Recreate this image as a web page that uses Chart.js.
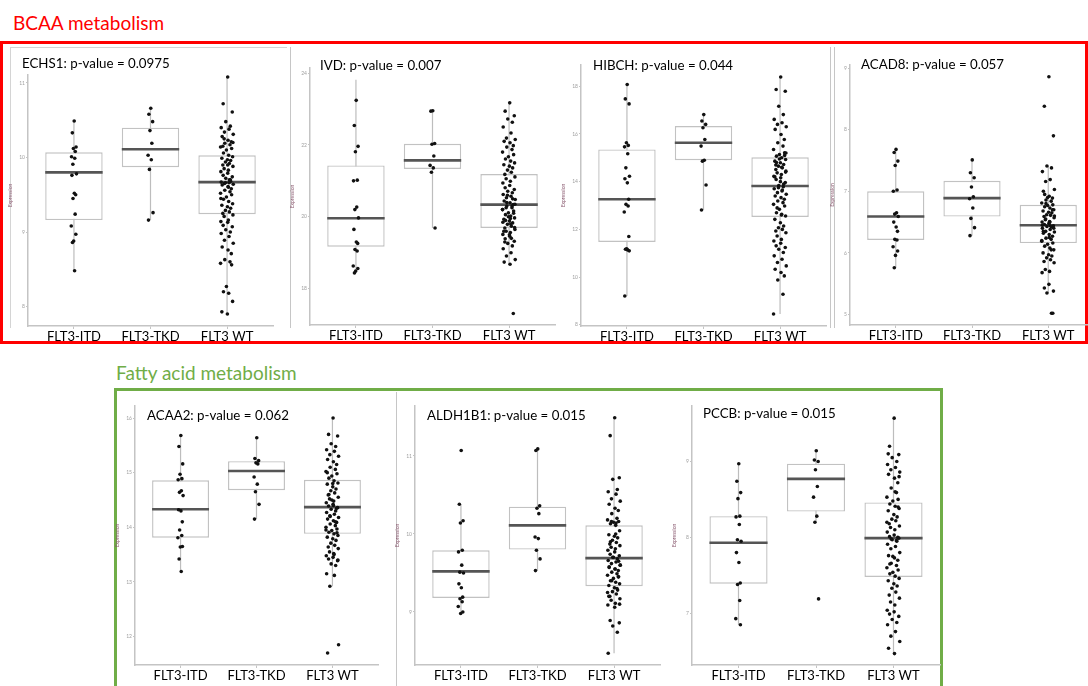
<!DOCTYPE html>
<html><head><meta charset="utf-8">
<script src="https://cdn.jsdelivr.net/npm/chart.js@4.4.0/dist/chart.umd.min.js"></script>
<style>
html,body{margin:0;padding:0;background:#fff;width:1088px;height:686px;overflow:hidden;position:relative;font-family:Lato,'Open Sans',sans-serif;}
.sec{position:absolute;font-size:19px;line-height:24px;white-space:nowrap;}
.frame{position:absolute;box-sizing:border-box;}
.vl{position:absolute;width:1px;background:#c6c6c6;}
.hl{position:absolute;height:1px;background:#d4d4d4;}
canvas{position:absolute;}
</style></head><body>
<div class="sec" style="left:13px;top:11px;color:#ff0000">BCAA metabolism</div>
<div class="frame" style="left:0;top:41px;width:1088px;height:303px;border:3px solid #ff0000"></div>
<div class="sec" style="left:116px;top:361px;color:#70ad47">Fatty acid metabolism</div>
<div class="frame" style="left:114px;top:388px;width:829px;height:320px;border:3px solid #70ad47"></div>
<div class="vl" style="left:10px;top:47px;height:281px;background:#d4d4d4"></div>
<div class="hl" style="left:10px;top:47px;width:277px"></div>
<div class="vl" style="left:290px;top:47px;height:281px"></div>
<div class="vl" style="left:830px;top:47px;height:281px"></div>
<div class="vl" style="left:834px;top:47px;height:281px"></div>
<div class="vl" style="left:396px;top:392px;height:294px"></div>
<script>
const categories = ['FLT3-ITD', 'FLT3-TKD', 'FLT3 WT'];

// ---- ECHS1 ----
const echs1Itd = [10.49,10.33,10.14,10.12,10.08,10.01,9.99,9.91,9.78,9.76,9.52,9.50,9.45,9.24,9.08,8.97,8.88,8.86,8.48];
const echs1Tkd = [10.66,10.58,10.48,10.36,10.19,10.03,9.97,9.84,9.26,9.16];
const echs1Wt = [11.08,10.72,10.61,10.48,10.42,10.40,10.38,10.34,10.31,10.28,10.23,10.21,10.19,10.17,10.14,10.12,10.10,10.06,10.03,10.01,9.99,9.97,9.96,9.94,9.92,9.90,9.88,9.85,9.83,9.81,9.79,9.76,9.74,9.72,9.70,9.67,9.66,9.65,9.64,9.63,9.61,9.58,9.56,9.54,9.52,9.50,9.47,9.44,9.41,9.38,9.36,9.34,9.32,9.29,9.27,9.25,9.23,9.21,9.16,9.14,9.13,9.09,9.07,9.03,9.00,8.98,8.94,8.89,8.85,8.80,8.76,8.71,8.63,8.60,8.58,8.56,8.27,8.20,8.18,8.07,7.93,7.90,9.68,9.66,9.70,10.15,10.20,10.25,9.60,9.45,9.90];
const echs1Stats = [[8.48,9.16,9.80,10.07,10.49],[9.16,9.87,10.11,10.40,10.66],[7.90,9.24,9.67,10.03,11.08]]; // [low whisker, Q1, median, Q3, high whisker]
const echs1Ticks = [8,9,10,11];

// ---- IVD ----
const ivdItd = [23.24,22.54,21.96,21.81,21.02,21.00,20.27,20.20,19.97,19.65,19.30,19.26,19.09,19.05,18.63,18.56,18.49,18.44];
const ivdTkd = [22.95,22.94,22.04,22.02,21.69,21.43,21.36,21.24,19.69];
const ivdWt = [23.17,22.94,22.81,22.72,22.63,22.50,22.33,22.19,22.15,22.10,22.06,21.98,21.94,21.87,21.80,21.73,21.67,21.61,21.55,21.50,21.45,21.41,21.36,21.30,21.24,21.18,21.11,21.06,20.99,20.94,20.87,20.81,20.76,20.71,20.67,20.62,20.57,20.53,20.48,20.44,20.39,20.34,20.30,20.25,20.20,20.16,20.11,20.06,20.02,19.97,19.93,19.88,19.83,19.79,19.74,19.69,19.65,19.60,19.56,19.51,19.46,19.39,19.32,19.26,19.19,19.11,19.00,18.91,18.81,18.74,18.68,17.31,20.40,20.30,20.20,20.10,20.00,19.90,19.80,19.70,19.60,19.50,20.50,20.60,19.40,19.30,20.35,20.25,19.95,19.85];
const ivdStats = [[18.44,19.17,19.96,21.43,23.81],[19.69,21.33,21.57,22.03,22.95],[18.68,19.69,20.34,21.19,23.17]];
const ivdTicks = [18,20,22,24];

// ---- HIBCH ----
const hibchItd = [18.07,17.47,17.26,15.63,15.52,15.46,15.17,14.58,14.23,14.12,13.95,13.26,13.05,12.98,12.73,11.70,11.19,11.17,11.14,11.10,9.21];
const hibchTkd = [16.81,16.54,16.40,16.26,15.77,15.49,14.90,14.86,13.86,12.81];
const hibchWt = [18.39,17.86,17.79,17.16,16.81,16.61,16.47,16.40,16.30,16.19,15.98,15.77,15.63,15.49,15.35,15.21,15.14,15.07,15.00,14.93,14.86,14.79,14.72,14.65,14.58,14.51,14.44,14.37,14.30,14.23,14.16,14.09,13.96,13.84,13.79,13.70,13.61,13.54,13.47,13.40,13.33,13.26,13.19,13.12,13.05,12.98,12.84,12.70,12.63,12.56,12.42,12.28,12.14,12.07,12.00,11.93,11.86,11.72,11.58,11.51,11.42,11.31,11.24,11.17,11.03,10.89,10.75,10.61,10.47,10.33,10.19,10.05,9.88,9.28,8.45,15.10,14.95,14.80,14.60,14.40,14.20,14.00,13.90,13.75,13.65,14.70,15.20,12.90,12.60];
const hibchStats = [[9.21,11.47,13.26,15.35,18.07],[12.81,14.90,15.63,16.33,16.81],[8.45,12.52,13.82,15.02,18.39]];
const hibchTicks = [8,10,12,14,16,18];

// ---- ACAD8 ----
const acad8Itd = [7.68,7.63,7.49,7.42,7.02,7.00,6.65,6.63,6.59,6.50,6.42,6.35,6.22,6.21,6.10,6.03,5.96,5.76];
const acad8Tkd = [7.51,7.30,7.22,7.07,6.91,6.88,6.73,6.56,6.41,6.28];
const acad8Wt = [8.86,8.38,7.90,7.41,7.38,7.32,7.19,7.16,7.03,7.00,6.92,6.89,6.86,6.84,6.81,6.78,6.77,6.75,6.73,6.70,6.68,6.66,6.65,6.62,6.61,6.59,6.57,6.54,6.51,6.50,6.48,6.46,6.44,6.43,6.42,6.40,6.38,6.35,6.34,6.32,6.30,6.27,6.24,6.22,6.19,6.16,6.14,6.11,6.08,6.05,6.00,5.97,5.95,5.92,5.89,5.86,5.84,5.73,5.70,5.68,5.49,5.43,5.38,5.35,5.02,6.45,6.44,6.55,6.60,6.35,6.25,6.70,6.80,6.05,6.20,5.02,6.90,6.95,6.50,6.40];
const acad8Stats = [[5.76,6.21,6.59,7.00,7.68],[6.28,6.59,6.89,7.17,7.51],[5.35,6.16,6.45,6.78,7.41]];
const acad8Ticks = [5,6,7,8,9];

// ---- ACAA2 ----
const acaa2Itd = [15.68,15.48,15.16,14.97,14.89,14.87,14.67,14.64,14.58,14.32,14.30,14.10,13.95,13.85,13.81,13.65,13.64,13.42,13.19];
const acaa2Tkd = [15.64,15.26,15.22,15.18,15.16,14.92,14.79,14.65,14.42,14.15];
const acaa2Wt = [16.00,15.70,15.67,15.53,15.48,15.42,15.39,15.33,15.30,15.24,15.20,15.15,15.10,15.06,15.02,14.98,14.94,14.90,14.85,14.81,14.79,14.74,14.70,14.67,14.63,14.59,14.55,14.52,14.48,14.45,14.42,14.39,14.36,14.33,14.30,14.27,14.24,14.21,14.18,14.15,14.12,14.09,14.06,14.03,14.00,13.97,13.94,13.91,13.88,13.85,13.82,13.79,13.76,13.71,13.67,13.64,13.61,13.55,13.52,13.48,13.45,13.42,13.39,13.33,13.30,13.15,13.12,12.92,11.85,11.70,14.40,14.35,14.20,14.10,13.95,13.90,14.50,14.60,13.50,13.40,15.00,14.80];
const acaa2Stats = [[13.19,13.81,14.33,14.86,15.68],[14.15,14.68,15.03,15.21,15.64],[12.92,13.88,14.37,14.87,16.00]];
const acaa2Ticks = [12,13,14,15,16];

// ---- ALDH1B1 ----
const aldhItd = [11.07,10.38,10.17,10.14,9.79,9.77,9.60,9.51,9.50,9.36,9.31,9.19,9.17,9.13,9.07,9.00,8.98];
const aldhTkd = [11.09,11.07,10.36,10.33,10.26,9.96,9.94,9.79,9.68,9.53];
const aldhWt = [11.49,11.26,10.72,10.70,10.57,10.54,10.51,10.45,10.42,10.38,10.33,10.30,10.26,10.20,10.18,10.16,10.15,10.13,10.11,10.04,9.99,9.97,9.95,9.92,9.89,9.87,9.85,9.83,9.81,9.79,9.77,9.74,9.72,9.70,9.68,9.66,9.64,9.62,9.60,9.57,9.55,9.53,9.51,9.49,9.47,9.45,9.43,9.40,9.38,9.36,9.34,9.31,9.28,9.26,9.23,9.20,9.17,9.15,9.11,9.09,9.06,8.89,8.86,8.82,8.74,8.47,10.14,10.16,9.60,9.58,9.55,9.45,9.40,9.30,9.25,9.65,9.70,9.90,10.00,9.10,9.20];
const aldhStats = [[8.98,9.18,9.52,9.79,10.38],[9.53,9.80,10.11,10.35,11.09],[8.47,9.33,9.69,10.11,11.49]];
const aldhTicks = [9,10,11];

// ---- PCCB ----
const pccbItd = [8.97,8.74,8.59,8.51,8.28,8.27,8.17,7.97,7.95,7.80,7.67,7.40,7.38,7.17,6.93,6.85];
const pccbTkd = [9.14,9.02,9.00,8.89,8.67,8.53,8.28,8.20,7.19];
const pccbWt = [9.57,9.20,9.09,9.05,9.00,8.96,8.92,8.89,8.86,8.83,8.78,8.72,8.65,8.59,8.53,8.50,8.48,8.44,8.41,8.38,8.35,8.30,8.27,8.24,8.22,8.18,8.15,8.13,8.10,8.07,8.03,8.01,7.99,7.97,7.95,7.91,7.88,7.85,7.80,7.76,7.73,7.70,7.66,7.63,7.60,7.57,7.54,7.52,7.49,7.46,7.43,7.39,7.36,7.33,7.28,7.24,7.20,7.15,7.11,7.04,7.02,6.99,6.96,6.92,6.88,6.85,6.76,6.70,6.63,6.54,6.47,8.00,7.98,7.96,8.20,8.40,7.75,7.65,8.60,8.80,9.10];
const pccbStats = [[6.85,7.39,7.93,8.28,8.97],[8.20,8.34,8.77,8.97,9.14],[6.47,7.48,7.99,8.46,9.57]];
const pccbTicks = [7,8,9];

// ---- layout (page pixels) ----
const panels = [
  {title:'ECHS1: p-value = 0.0975', groups:[echs1Itd,echs1Tkd,echs1Wt], stats:echs1Stats, ticks:echs1Ticks, yMin:7.74, yMax:11.24, area:[28,273,65,326], tx:22, ty:63},
  {title:'IVD: p-value = 0.007', groups:[ivdItd,ivdTkd,ivdWt], stats:ivdStats, ticks:ivdTicks, yMin:16.99, yMax:24.14, area:[310,555,68,325], tx:320, ty:65},
  {title:'HIBCH: p-value = 0.044', groups:[hibchItd,hibchTkd,hibchWt], stats:hibchStats, ticks:hibchTicks, yMin:7.95, yMax:18.89, area:[581,826,65,326], tx:593, ty:65},
  {title:'ACAD8: p-value = 0.057', groups:[acad8Itd,acad8Tkd,acad8Wt], stats:acad8Stats, ticks:acad8Ticks, yMin:4.83, yMax:9.05, area:[850,1094,65,325], tx:861, ty:64},
  {title:'ACAA2: p-value = 0.062', groups:[acaa2Itd,acaa2Tkd,acaa2Wt], stats:acaa2Stats, ticks:acaa2Ticks, yMin:11.48, yMax:16.22, area:[135,378,406,665], tx:147, ty:415},
  {title:'ALDH1B1: p-value = 0.015', groups:[aldhItd,aldhTkd,aldhWt], stats:aldhStats, ticks:aldhTicks, yMin:8.32, yMax:11.64, area:[415,660,406,665], tx:427, ty:415},
  {title:'PCCB: p-value = 0.015', groups:[pccbItd,pccbTkd,pccbWt], stats:pccbStats, ticks:pccbTicks, yMin:6.32, yMax:9.73, area:[692,940,406,665], tx:703, ty:413}
];

const Y_AXIS_W = 22, X_AXIS_H = 26, PAD_TOP = 20, PAD_RIGHT = 4;
const BOX_W = 0.75;
const JIT = [0.1,-0.6,0.8,-0.2,0.5,-0.9,0.3,-0.4,0.95,-0.75,0.15,0.65,-0.35,0.45,-1,0.7,-0.1,-0.55,0.25,0.85,-0.8,0.05,0.55,-0.25,0.35,-0.65,0.9,-0.45,0.2,-0.95];
const SPREAD = [0.035, 0.035, 0.085];
const FONT = "Lato, 'Open Sans', sans-serif";

const panelTitle = {
  id: 'panelTitle',
  afterDraw(chart, args, o) {
    const ctx = chart.ctx;
    ctx.save();
    ctx.font = '14px ' + FONT;
    const x = o.x, y = o.y, sx = 0.95;
    const w = ctx.measureText(o.text).width * sx;
    ctx.fillStyle = '#ffffff';
    ctx.fillRect(x - 4, y - 11, w + 8, 22);
    ctx.translate(x, y);
    ctx.scale(sx, 1);
    ctx.fillStyle = '#000000';
    ctx.textBaseline = 'middle';
    ctx.fillText(o.text, 0, 0);
    ctx.restore();
  }
};

panels.forEach((p) => {
  const [L, R, T, B] = p.area;
  const cl = L - Y_AXIS_W, ct = T - PAD_TOP;
  const cw = R - L + Y_AXIS_W + PAD_RIGHT, ch = B - T + PAD_TOP + X_AXIS_H;
  const cv = document.createElement('canvas');
  cv.width = cw; cv.height = ch;
  cv.style.left = cl + 'px'; cv.style.top = ct + 'px';
  cv.style.width = cw + 'px'; cv.style.height = ch + 'px';
  document.body.appendChild(cv);

  const pts = [];
  p.groups.forEach((arr, gi) => arr.forEach((v, i) => pts.push({x: gi + 1 + JIT[i % JIT.length] * SPREAD[gi], y: v})));
  const box = p.stats.map((s, gi) => ({x: gi + 1, y: [s[1], s[3]]}));
  const whisk = [];
  p.stats.forEach((s, gi) => { whisk.push({x: gi + 1, y: s[0]}, {x: gi + 1, y: s[4]}, {x: gi + 1, y: null}); });
  const med = [];
  p.stats.forEach((s, gi) => { med.push({x: gi + 1 - BOX_W / 2, y: s[2]}, {x: gi + 1 + BOX_W / 2, y: s[2]}, {x: gi + 1, y: null}); });

  new Chart(cv, {
    type: 'bar',
    data: {
      datasets: [
        {type: 'line', data: whisk, borderColor: '#bdbdbd', borderWidth: 1.2, pointRadius: 0, spanGaps: false, order: 4},
        {type: 'bar', data: box, backgroundColor: '#ffffff', borderColor: '#c2c2c2', borderWidth: 1.4, borderSkipped: false, categoryPercentage: BOX_W, barPercentage: 1, order: 3},
        {type: 'line', data: med, borderColor: '#555555', borderWidth: 2.6, pointRadius: 0, spanGaps: false, order: 2},
        {type: 'scatter', data: pts, backgroundColor: '#111111', borderWidth: 0, pointRadius: 1.8, order: 1}
      ]
    },
    options: {
      responsive: false, animation: false, devicePixelRatio: 1, events: [],
      layout: {padding: {top: PAD_TOP, right: PAD_RIGHT, left: 0, bottom: 0}},
      plugins: {legend: {display: false}, tooltip: {enabled: false},
        panelTitle: {text: p.title, x: p.tx - cl, y: p.ty - ct}},
      scales: {
        x: {
          type: 'linear', min: 0.4, max: 3.6, offset: false,
          afterBuildTicks: (s) => { s.ticks = categories.map((c, i) => ({value: i + 1})); },
          afterFit: (s) => { s.height = X_AXIS_H; },
          ticks: {callback: (v, i) => categories[i], font: {size: 13, family: FONT}, color: '#000', padding: 0, maxRotation: 0, autoSkip: false},
          border: {display: true, color: '#c4c4c4', width: 1.5},
          grid: {drawOnChartArea: false, drawTicks: true, tickLength: 3, color: '#c4c4c4', offset: false}
        },
        y: {
          type: 'linear', min: p.yMin, max: p.yMax,
          afterBuildTicks: (s) => { s.ticks = p.ticks.map((v) => ({value: v})); },
          afterFit: (s) => { s.width = Y_AXIS_W; },
          ticks: {font: {size: 5, family: FONT}, color: '#a0a0a0', padding: 1},
          border: {display: true, color: '#c4c4c4', width: 1.5},
          grid: {drawOnChartArea: false, drawTicks: true, tickLength: 2, color: '#c4c4c4'},
          title: {display: true, text: 'Expression', font: {size: 5, family: FONT}, color: '#8a5a70', padding: 1}
        }
      }
    },
    plugins: [panelTitle]
  });
});
</script>
</body></html>
